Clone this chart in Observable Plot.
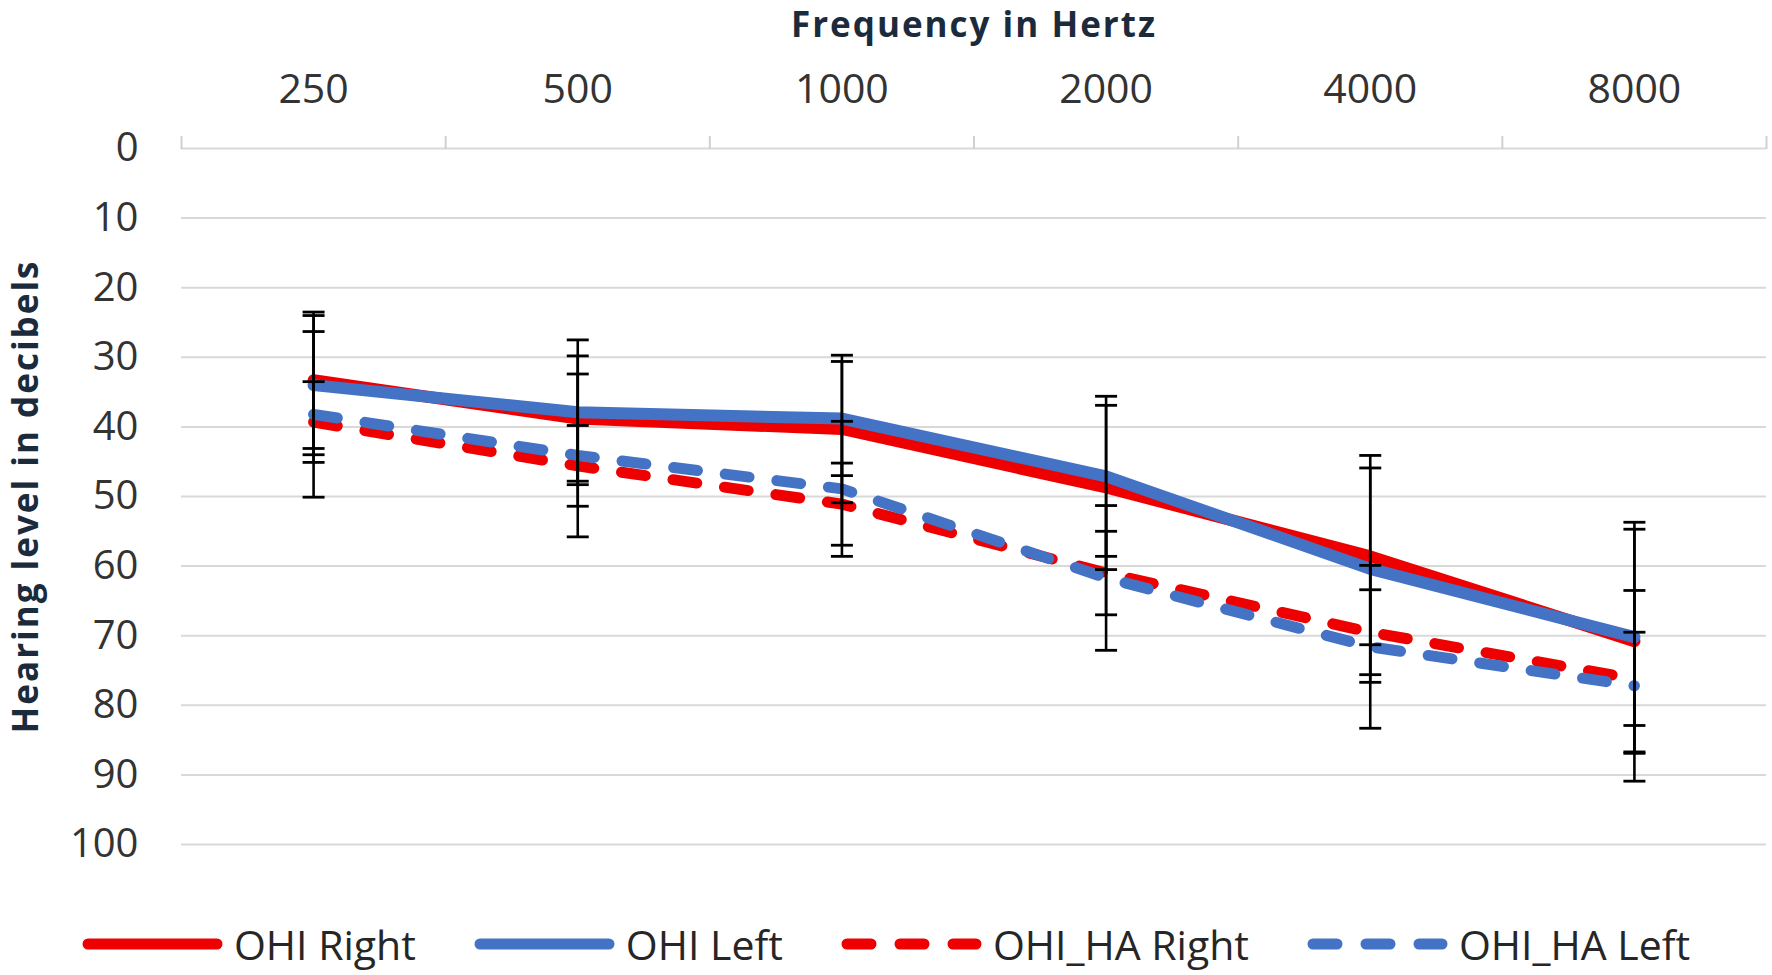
<!DOCTYPE html>
<html>
<head>
<meta charset="utf-8">
<script src="https://cdn.jsdelivr.net/npm/d3@7"></script>
<script src="https://cdn.jsdelivr.net/npm/@observablehq/plot@0.6"></script>
<style>
  html, body { margin: 0; padding: 0; background: #ffffff; }
  #wrap { width: 1772px; height: 975px; position: relative; overflow: hidden; font-family: 'Open Sans', sans-serif; }
  #chart svg { display: block; overflow: visible; }
  g[aria-label="x-axis label"] text, g[aria-label="y-axis label"] text {
    font-size: 35px; font-weight: 700; fill: #1c2b3c; letter-spacing: 2px;
  }
  #legend { height: 95px; position: relative; }
  #legend .row { position: absolute; top: 44px; left: 0; width: 1772px; height: 40px;
    display: flex; justify-content: center; align-items: center; gap: 58px; }
  #legend .item { display: flex; align-items: center; gap: 11px; }
  #legend .item span { font-size: 41px; line-height: 40px; color: #262626; }
</style>
</head>
<body>
<div id="wrap">
  <div id="chart"></div>
  <div id="legend"><div class="row"></div></div>
</div>
<script>
// ---- data ----
const frequencies = ["250", "500", "1000", "2000", "4000", "8000"];
const yTicks = [0, 10, 20, 30, 40, 50, 60, 70, 80, 90, 100];
const seriesNames = ["OHI Right", "OHI Left", "OHI_HA Right", "OHI_HA Left"];

const ohiRight     = [33.3, 38.8, 40.3, 48.7, 58.6, 70.8];
const ohiRightSD   = [9.8, 9.0, 10.6, 11.8, 12.7, 16.1];
const ohiLeft      = [34.0, 37.9, 38.8, 47.1, 60.4, 70.2];
const ohiLeftSD    = [10.0, 10.4, 8.2, 11.5, 16.3, 16.5];
const ohiHaRight   = [39.3, 45.6, 51.1, 61.0, 69.5, 76.2];
const ohiHaRightSD = [5.8, 5.8, 5.9, 6.0, 6.1, 6.7];
const ohiHaLeft    = [38.2, 44.1, 48.9, 61.7, 71.6, 77.2];
const ohiHaLeftSD  = [11.9, 11.7, 9.7, 10.4, 11.7, 13.7];

// ---- styling ----
const RED = "#ee0000", BLUE = "#4472c4";
const series = [
  {name: seriesNames[0], values: ohiRight,   sd: ohiRightSD,   color: RED,  dashed: false},
  {name: seriesNames[1], values: ohiLeft,    sd: ohiLeftSD,    color: BLUE, dashed: false},
  {name: seriesNames[2], values: ohiHaRight, sd: ohiHaRightSD, color: RED,  dashed: true},
  {name: seriesNames[3], values: ohiHaLeft,  sd: ohiHaLeftSD,  color: BLUE, dashed: true}
];

const rows = series.flatMap(s => frequencies.map((f, i) => ({
  series: s.name, freq: f, i, value: s.values[i], sd: s.sd[i]
})));
const caps = rows.flatMap(d => [{i: d.i, y: d.value - d.sd}, {i: d.i, y: d.value + d.sd}]);
const indices = frequencies.map((f, i) => i);
const boundaries = d3.range(frequencies.length + 1).map(i => i - 0.5);

const capSymbol = {
  draw(context, size) {
    const r = Math.sqrt(size / Math.PI);
    context.moveTo(-r, 0);
    context.lineTo(r, 0);
  }
};

const lineMarks = series.map(s => Plot.line(rows.filter(d => d.series === s.name), {
  x: "i", y: "value", stroke: s.color,
  strokeWidth: s.dashed ? 11 : 12,
  strokeDasharray: s.dashed ? "24 28" : null,
  strokeLinecap: "round", strokeLinejoin: "round"
}));

const chart = Plot.plot({
  width: 1772,
  height: 880,
  marginTop: 148,
  marginBottom: 36,
  marginLeft: 181,
  marginRight: 6,
  style: {fontFamily: "'Open Sans', sans-serif", background: "#ffffff", color: "#333333"},
  x: {type: "linear", domain: [-0.5, frequencies.length - 0.5]},
  y: {domain: [0, 100], reverse: true},
  marks: [
    Plot.ruleY(yTicks, {stroke: "#d9d9d9", strokeWidth: 2}),
    Plot.axisX(boundaries, {anchor: "top", tickSize: 13, tickFormat: () => "", stroke: "#d0d0d0", strokeWidth: 2, label: null}),
    Plot.axisX(indices, {
      anchor: "top", tickSize: 0, tickPadding: 46, fontSize: 41, fill: "#333333",
      tickFormat: i => frequencies[i],
      label: "Frequency in Hertz", labelAnchor: "center", labelOffset: 136, labelArrow: "none"
    }),
    Plot.axisY(yTicks, {
      anchor: "left", tickSize: 0, tickPadding: 43, fontSize: 40, fill: "#333333",
      label: "Hearing level in decibels", labelAnchor: "center", labelOffset: 168, labelArrow: "none"
    }),
    ...lineMarks,
    Plot.ruleX(rows, {x: "i", y1: d => d.value - d.sd, y2: d => d.value + d.sd, stroke: "#000000", strokeWidth: 2.6}),
    Plot.dot(caps, {x: "i", y: "y", symbol: capSymbol, r: 11, stroke: "#000000", strokeWidth: 2.8, fill: "none"})
  ]
});
document.getElementById("chart").appendChild(chart);

// ---- legend ----
const row = document.querySelector("#legend .row");
series.forEach(s => {
  const item = document.createElement("div");
  item.className = "item";
  const ns = "http://www.w3.org/2000/svg";
  const svg = document.createElementNS(ns, "svg");
  svg.setAttribute("width", 141);
  svg.setAttribute("height", 16);
  const ln = document.createElementNS(ns, "line");
  ln.setAttribute("x1", 6); ln.setAttribute("x2", 135);
  ln.setAttribute("y1", 8); ln.setAttribute("y2", 8);
  ln.setAttribute("stroke", s.color);
  ln.setAttribute("stroke-width", 11);
  ln.setAttribute("stroke-linecap", "round");
  if (s.dashed) ln.setAttribute("stroke-dasharray", "24 29");
  svg.appendChild(ln);
  const label = document.createElement("span");
  label.textContent = s.name;
  item.appendChild(svg);
  item.appendChild(label);
  row.appendChild(item);
});
</script>
</body>
</html>
